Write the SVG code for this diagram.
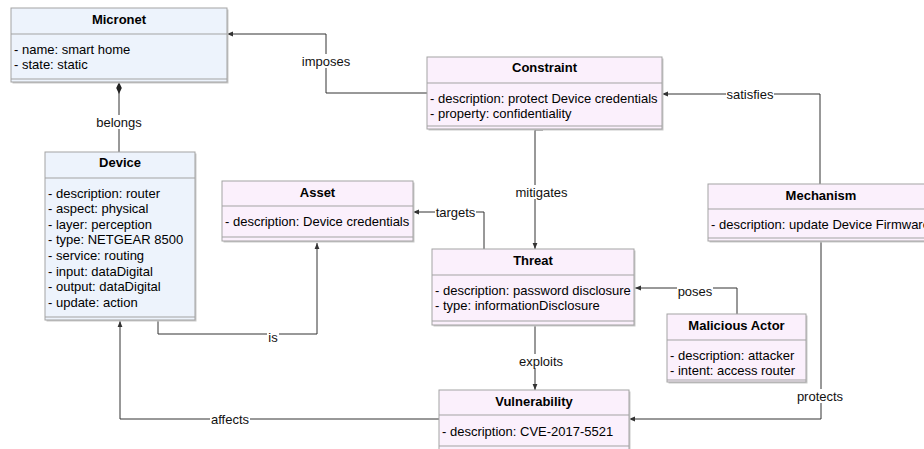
<svg xmlns="http://www.w3.org/2000/svg" width="924" height="449" viewBox="0 0 924 449">
<defs>
<style>
.bb{fill:#edf3fc;stroke:#a3a3a3;stroke-width:1}
.bp{fill:#fbf0fc;stroke:#a3a3a3;stroke-width:1}
.sh{fill:#c9c9c9}
.sep{stroke:#a3a3a3;stroke-width:1;fill:none}
.t{font-family:"Liberation Sans",Arial,sans-serif;font-size:13px;font-weight:bold;fill:#000;text-anchor:middle}
.a{font-family:"Liberation Sans",Arial,sans-serif;font-size:13px;fill:#000}
.e{fill:none;stroke:#333;stroke-width:1}
.l{font-family:"Liberation Sans",Arial,sans-serif;font-size:13px;fill:#111;text-anchor:middle}
.lb{fill:#fff}
</style>
<marker id="arr" viewBox="0 0 6 6" refX="6" refY="3" markerWidth="6" markerHeight="6" markerUnits="userSpaceOnUse" orient="auto"><path d="M0,0.6 L6,3 L0,5.4 z" fill="#333"/></marker>
<marker id="dia" viewBox="0 0 12 6" refX="12" refY="3" markerWidth="12" markerHeight="6" markerUnits="userSpaceOnUse" orient="auto"><path d="M0,3 L6,0.2 L12,3 L6,5.8 z" fill="#222"/></marker>
</defs>
<rect width="924" height="449" fill="#fff"/>

<g id="connectors">
<path class="e" d="M427 93 H326 V34 H227" marker-end="url(#arr)"/>
<path class="e" d="M119 153 V82" marker-end="url(#dia)"/>
<path class="e" d="M158 321 V334 H317 V243" marker-end="url(#arr)"/>
<path class="e" d="M484 249 V212 H413" marker-end="url(#arr)"/>
<path class="e" d="M543 130 H535 V249" marker-end="url(#arr)"/>
<path class="e" d="M820 184 V94 H662" marker-end="url(#arr)"/>
<path class="e" d="M737 314 V288 H635" marker-end="url(#arr)"/>
<path class="e" d="M535 326 V390" marker-end="url(#arr)"/>
<path class="e" d="M439 419 H120 V321" marker-end="url(#arr)"/>
<path class="e" d="M821 242 V419 H629" marker-end="url(#arr)"/>
<rect class="lb" x="301" y="54" width="50" height="14"/><text class="l" x="326" y="65.5">imposes</text>
<rect class="lb" x="96" y="115" width="46" height="14"/><text class="l" x="119" y="126.5">belongs</text>
<rect class="lb" x="267" y="330" width="12" height="14"/><text class="l" x="273" y="341.5">is</text>
<rect class="lb" x="435" y="205" width="41" height="14"/><text class="l" x="455.5" y="216.5">targets</text>
<rect class="lb" x="514" y="185" width="55" height="14"/><text class="l" x="541.5" y="196.5">mitigates</text>
<rect class="lb" x="726" y="87" width="48" height="14"/><text class="l" x="750" y="98.5">satisfies</text>
<rect class="lb" x="677" y="284" width="36" height="14"/><text class="l" x="695" y="295.5">poses</text>
<rect class="lb" x="518" y="354" width="46" height="14"/><text class="l" x="541" y="365.5">exploits</text>
<rect class="lb" x="210" y="412" width="40" height="14"/><text class="l" x="230" y="423.5">affects</text>
<rect class="lb" x="796" y="389" width="48" height="14"/><text class="l" x="820" y="400.5">protects</text>
</g>

<g id="micronet">
<rect class="sh" x="12.5" y="9.5" width="216" height="74"/>
<rect class="bb" x="11" y="8" width="216" height="74"/>
<path class="sep" d="M11 34 H227 M11 79 H227"/>
<text class="t" x="119" y="23.5">Micronet</text>
<text class="a" x="14" y="53.5">- name: smart home</text>
<text class="a" x="14" y="69">- state: static</text>
</g>

<g id="device">
<rect class="sh" x="46.5" y="153.5" width="150" height="168"/>
<rect class="bb" x="45" y="152" width="150" height="168"/>
<path class="sep" d="M45 178 H195 M45 317 H195"/>
<text class="t" x="120" y="166.5">Device</text>
<text class="a" x="48" y="197.5">- description: router</text>
<text class="a" x="48" y="213.1">- aspect: physical</text>
<text class="a" x="48" y="228.7">- layer: perception</text>
<text class="a" x="48" y="244.3">- type: NETGEAR 8500</text>
<text class="a" x="48" y="259.9">- service: routing</text>
<text class="a" x="48" y="275.5">- input: dataDigital</text>
<text class="a" x="48" y="291.1">- output: dataDigital</text>
<text class="a" x="48" y="306.7">- update: action</text>
</g>

<g id="asset">
<rect class="sh" x="223.5" y="182.5" width="191" height="60"/>
<rect class="bp" x="222" y="181" width="191" height="60"/>
<path class="sep" d="M222 206 H413 M222 237 H413"/>
<text class="t" x="317.5" y="196.5">Asset</text>
<text class="a" x="225" y="225.5">- description: Device credentials</text>
</g>

<g id="constraint">
<rect class="sh" x="428.5" y="58.5" width="235" height="72"/>
<rect class="bp" x="427" y="57" width="235" height="72"/>
<path class="sep" d="M427 83 H662 M427 126 H662"/>
<text class="t" x="544.5" y="71.5">Constraint</text>
<text class="a" x="430" y="102.5">- description: protect Device credentials</text>
<text class="a" x="430" y="118.1">- property: confidentiality</text>
</g>

<g id="threat">
<rect class="sh" x="433.5" y="250.5" width="202" height="76"/>
<rect class="bp" x="432" y="249" width="202" height="76"/>
<path class="sep" d="M432 275 H634 M432 321 H634"/>
<text class="t" x="533" y="264.5">Threat</text>
<text class="a" x="435" y="294.5">- description: password disclosure</text>
<text class="a" x="435" y="310.1">- type: informationDisclosure</text>
</g>

<g id="mechanism">
<rect class="sh" x="709.5" y="185.5" width="226" height="57"/>
<rect class="bp" x="708" y="184" width="226" height="57"/>
<path class="sep" d="M708 209 H934 M708 238 H934"/>
<text class="t" x="821" y="199.5">Mechanism</text>
<text class="a" x="711" y="228.5">- description: update Device Firmware</text>
</g>

<g id="malicious-actor">
<rect class="sh" x="668.5" y="315.5" width="139" height="68"/>
<rect class="bp" x="667" y="314" width="139" height="68"/>
<path class="sep" d="M667 340 H806 M667 380 H806"/>
<text class="t" x="736.5" y="329.5">Malicious Actor</text>
<text class="a" x="670" y="359.5">- description: attacker</text>
<text class="a" x="670" y="375">- intent: access router</text>
</g>

<g id="vulnerability">
<rect class="sh" x="440.5" y="391.5" width="190" height="70"/>
<rect class="bp" x="439" y="390" width="190" height="70"/>
<path class="sep" d="M439 415 H629 M439 446 H629"/>
<text class="t" x="534" y="405.5">Vulnerability</text>
<text class="a" x="442" y="435.5">- description: CVE-2017-5521</text>
</g>
</svg>
